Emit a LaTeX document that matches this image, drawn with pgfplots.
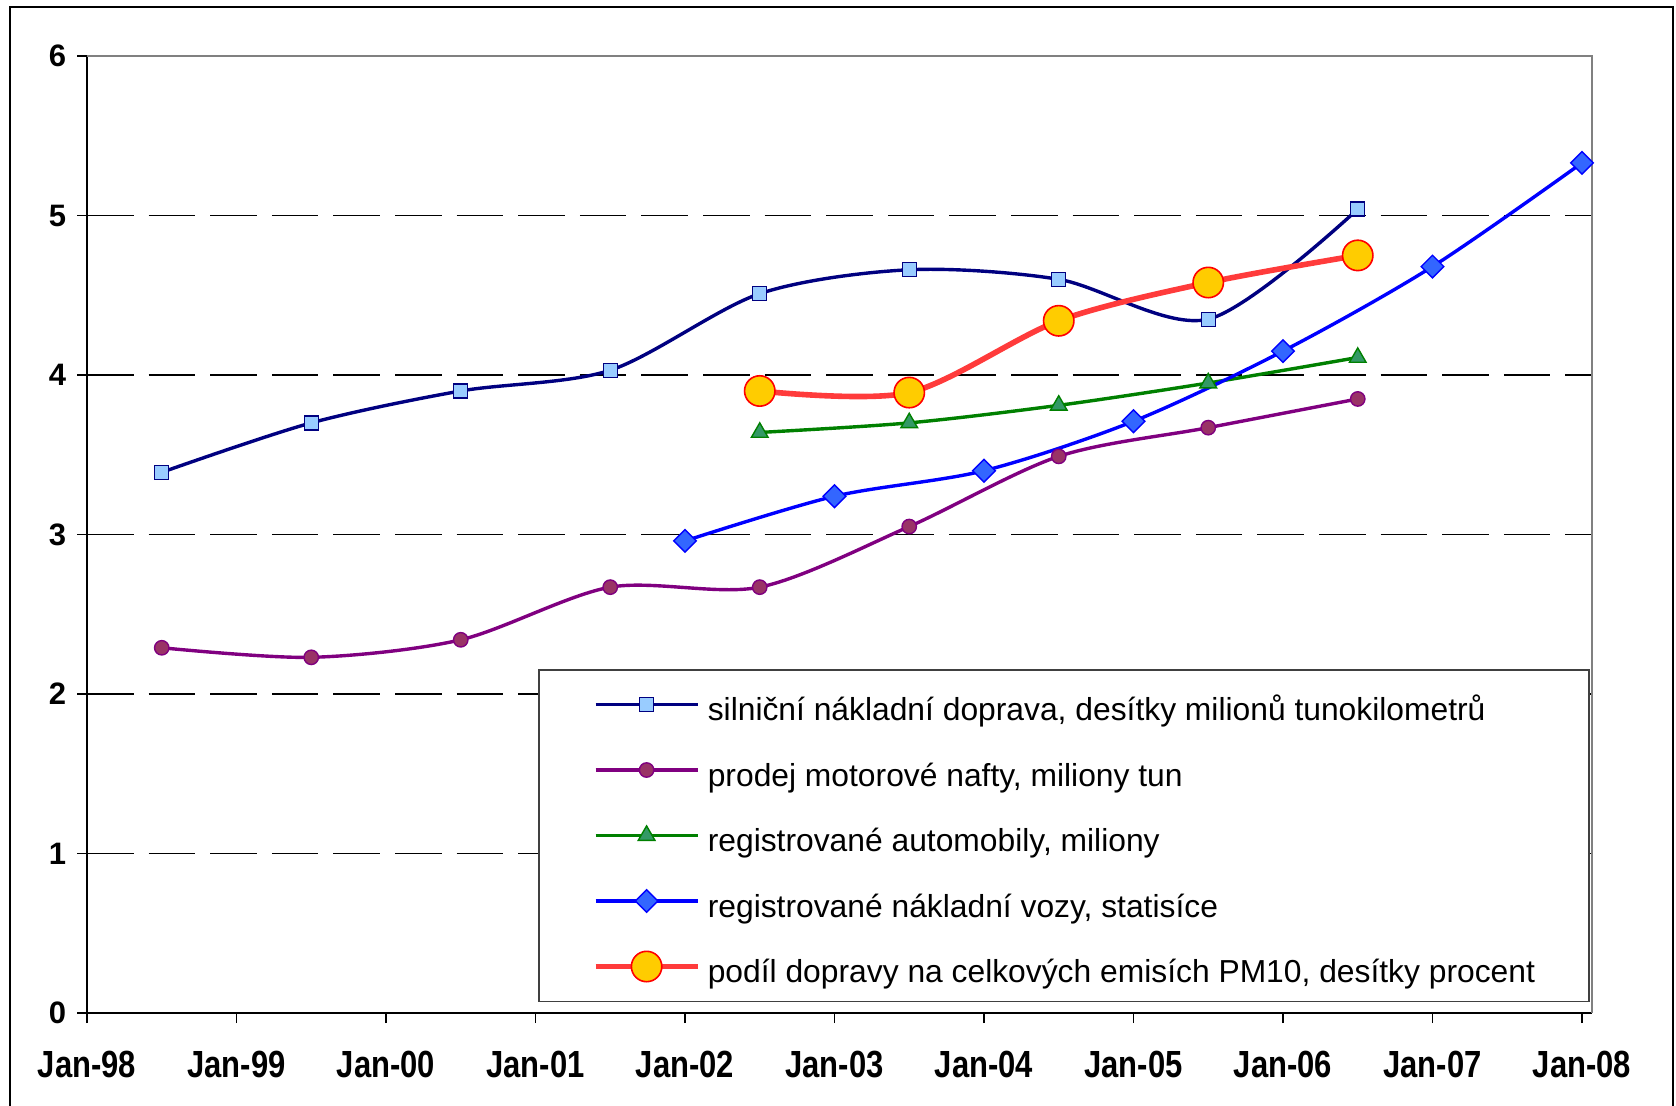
\documentclass[border=0pt]{standalone}
\usepackage{pgfplots}
\pgfplotsset{compat=1.18}
\usepackage{fontspec}
\setmainfont{Liberation Sans}

\definecolor{navyln}{HTML}{000080}
\definecolor{sqfill}{HTML}{99CCFF}
\definecolor{purpln}{HTML}{800080}
\definecolor{purpfill}{HTML}{993366}
\definecolor{grnln}{HTML}{008000}
\definecolor{grnfill}{HTML}{339966}
\definecolor{bluln}{HTML}{0000FF}
\definecolor{blufill}{HTML}{3366FF}
\definecolor{redln}{HTML}{FF3B3B}
\definecolor{orfill}{HTML}{FFCC00}

\newcommand{\tl}[1]{\scalebox{1}[1.22]{#1}}

\begin{document}
\begin{tikzpicture}
\useasboundingbox (0,0) rectangle (838pt,-552.5pt);
% outer frame of the chart
\draw[line width=1.3pt] (5pt,-3.5pt) rectangle (836.5pt,-600pt);

\begin{axis}[
  at={(43.5pt,-506.5pt)}, anchor=south west,
  scale only axis, width=752.5pt, height=478.5pt,
  xmin=1998, xmax=2008.067, ymin=0, ymax=6,
  clip=false,
  axis x line*=bottom, axis y line*=left,
  axis line style={black, line width=0.9pt, -},
  xtick={1998,1999,2000,2001,2002,2003,2004,2005,2006,2007,2008},
  xticklabels={\tl{Jan-98},\tl{Jan-99},\tl{Jan-00},\tl{Jan-01},\tl{Jan-02},\tl{Jan-03},\tl{Jan-04},\tl{Jan-05},\tl{Jan-06},\tl{Jan-07},\tl{Jan-08}},
  ytick={0,1,2,3,4,5,6},
  extra y ticks={1,2,3,4,5},
  extra y tick labels={},
  extra y tick style={grid=major, major tick length=0pt},
  major grid style={black, line width=0.6pt, dash pattern=on 23.3pt off 7.5pt},
  tick align=outside, major tick length=5pt,
  tick style={black, line width=0.8pt},
  /pgf/number format/assume math mode=true,
  yticklabel style={font=\fontsize{15.5}{18}\selectfont\bfseries, xshift=-2pt},
  xticklabel style={font=\fontsize{15.5}{18}\selectfont\bfseries, yshift=-10.5pt},
  legend style={
    at={(0.2997,0.0115)}, anchor=south west,
    draw=black!75, line width=0.75pt, fill=white,
    font=\fontsize{15.9}{18}\selectfont,
    inner xsep=27pt, inner ysep=6pt,
    row sep=10pt,
    nodes={inner sep=0pt, text height=19.5pt, text depth=3.25pt},
    /tikz/every odd column/.append style={column sep=3.7pt},
  },
  legend cell align=left,
  legend image code/.code={
    \draw[mark repeat=2, mark phase=2] plot coordinates {(0pt,0pt) (25.5pt,0pt) (51pt,0pt)};
  },
]

% plot area border on the top and right
\draw[gray, line width=0.9pt] (rel axis cs:0,1) -- (rel axis cs:1,1) -- (rel axis cs:1,0);

\addplot[navyln, line width=1.7pt, smooth, mark=square*, mark size=3.5pt,
  mark options={fill=sqfill, draw=navyln, line width=0.7pt, solid},
  legend image post style={line width=1.7pt}]
  coordinates {(1998.5,3.39) (1999.5,3.70) (2000.5,3.90) (2001.5,4.03) (2002.5,4.51)
               (2003.5,4.66) (2004.5,4.60) (2005.5,4.35) (2006.5,5.04)};
\addlegendentry{silniční nákladní doprava, desítky milionů tunokilometrů}

\addplot[purpln, line width=1.7pt, smooth, mark=*, mark size=3.6pt,
  mark options={fill=purpfill, draw=purpln, line width=0.7pt, solid},
  legend image post style={line width=1.7pt}]
  coordinates {(1998.5,2.29) (1999.5,2.23) (2000.5,2.34) (2001.5,2.67) (2002.5,2.67)
               (2003.5,3.05) (2004.5,3.49) (2005.5,3.67) (2006.5,3.85)};
\addlegendentry{prodej motorové nafty, miliony tun}

\addplot[grnln, line width=1.7pt, smooth, mark=triangle*, mark size=4.8pt,
  mark options={fill=grnfill, draw=grnln, line width=0.7pt, solid},
  legend image post style={line width=1.7pt}]
  coordinates {(2002.5,3.64) (2003.5,3.70) (2004.5,3.81) (2005.5,3.95) (2006.5,4.11)};
\addlegendentry{registrované automobily, miliony}

\addplot[bluln, line width=1.7pt, smooth, mark=square*, mark size=4pt,
  mark options={fill=blufill, draw=bluln, line width=0.7pt, solid, rotate=45},
  legend image post style={line width=1.7pt}]
  coordinates {(2002,2.96) (2003,3.24) (2004,3.40) (2005,3.71) (2006,4.15)
               (2007,4.68) (2008,5.33)};
\addlegendentry{registrované nákladní vozy, statisíce}

\addplot[redln, line width=2.8pt, smooth, mark=*, mark size=7.6pt,
  mark options={fill=orfill, draw=red, line width=0.8pt, solid},
  legend image post style={line width=2.8pt}]
  coordinates {(2002.5,3.90) (2003.5,3.89) (2004.5,4.34) (2005.5,4.58) (2006.5,4.75)};
\addlegendentry{podíl dopravy na celkových emisích PM10, desítky procent}

\end{axis}
\end{tikzpicture}
\end{document}
